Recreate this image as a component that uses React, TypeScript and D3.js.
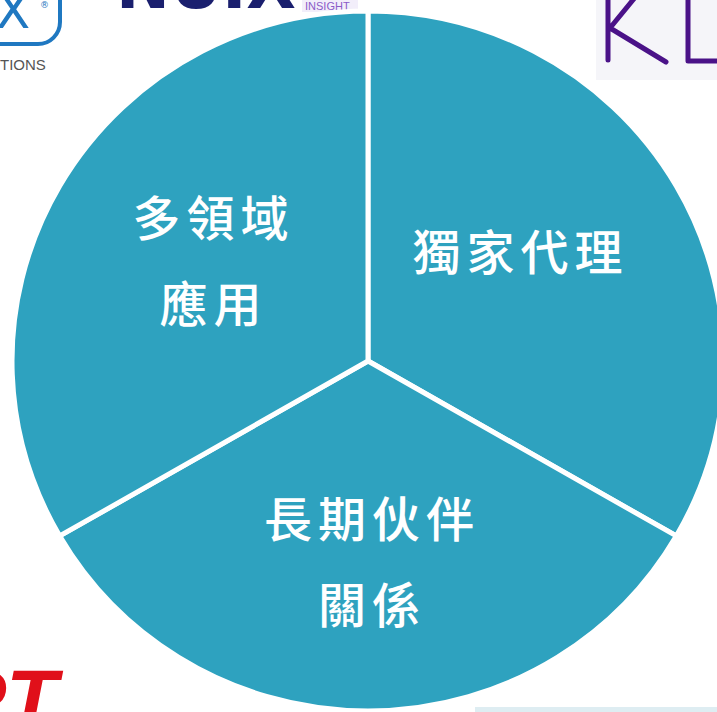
import React from "react";
import * as d3 from "d3";

const categories: string[][] = [["獨家代理"], ["長期伙伴", "關係"], ["多領域", "應用"]];
const values: number[] = [1, 1, 1];

const W = 717;
const H = 712;
const CX = 368;
const CY = 361;
const R = 356;
const SY = 0.983;
const FILL = "#2ea2bf";
const FONT = "'Noto Sans CJK TC', 'Noto Sans CJK SC', sans-serif";
const FS = 48;
const LS = 6;
const LINE_GAP = 86;
const LABEL_R = 190;
const nudges: [number, number][] = [[-15, -17], [1, 8], [7, -8.5]];

export default function App() {
  const pie = d3.pie<number>().sort(null).startAngle(0).endAngle(2 * Math.PI);
  const arcs = pie(values);
  const arcGen = d3.arc<d3.PieArcDatum<number>>().innerRadius(0).outerRadius(R);
  const labelArc = d3.arc<d3.PieArcDatum<number>>().innerRadius(LABEL_R).outerRadius(LABEL_R);

  return (
    <svg width={W} height={H} style={{ position: "absolute", left: 0, top: 0, background: "#fff" }}>
      {/* background logo fragments */}
      <g>
        <rect x={-110} y={-60} width={170} height={104} rx={22} fill="none" stroke="#1f78c1" strokeWidth={4} />
        <text x={-4} y={28} fontFamily="'DejaVu Sans', sans-serif" fontSize={50} fill="#1f78c1">X</text>
        <text x={40} y={8} fontFamily="'DejaVu Sans', sans-serif" fontSize={9} fill="#1f78c1">®</text>
        <text x={0} y={70} fontFamily="'Liberation Sans Narrow', 'Liberation Sans', sans-serif" fontSize={15} fill="#555">TIONS</text>
        <text x={116} y={8} fontFamily="'DejaVu Sans', sans-serif" fontWeight="bold" fontSize={70} fill="#1a1f6e" textLength={180} lengthAdjust="spacingAndGlyphs">NUIX</text>
        <rect x={302} y={0} width={56} height={12} fill="#f2eefa" />
        <text x={305} y={10} fontFamily="'Liberation Sans Narrow', 'Liberation Sans', sans-serif" fontSize={11} fill="#8a5cc8">INSIGHT</text>
        <rect x={596} y={0} width={121} height={80} fill="#f5f5f9" />
        <path d="M608,-5 L608,60 M637,-5 L610,28 L666,62 M688,-5 L688,61 L720,61" fill="none" stroke="#4a1288" strokeWidth={5} strokeLinejoin="round" strokeLinecap="round" />
        <text x={-50} y={728} fontFamily="'Liberation Sans', sans-serif" fontWeight="bold" fontStyle="italic" fontSize={84} fill="#e0101a">PT</text>
        <rect x={475} y={707} width={242} height={5} fill="#d6e8ef" opacity={0.8} />
      </g>
      <g transform={`translate(${CX},${CY})`}>
        <g transform={`scale(1,${SY})`}>
          {arcs.map((a, i) => (
            <path key={i} d={arcGen(a) || ""} fill={FILL} stroke="#fff" strokeWidth={5} strokeLinejoin="round" />
          ))}
        </g>
        {arcs.map((a, i) => {
          const [lx, ly] = labelArc.centroid(a);
          const lines = categories[i];
          const x = lx + nudges[i][0];
          const y0 = ly + nudges[i][1] - ((lines.length - 1) * LINE_GAP) / 2;
          return (
            <text key={i} fill="#fff" fontFamily={FONT} fontSize={FS} fontWeight={500} textAnchor="middle" dominantBaseline="central">
              {lines.map((t, j) => (
                <tspan key={j} x={x + LS / 2} y={y0 + j * LINE_GAP} letterSpacing={LS}>{t}</tspan>
              ))}
            </text>
          );
        })}
      </g>
    </svg>
  );
}
